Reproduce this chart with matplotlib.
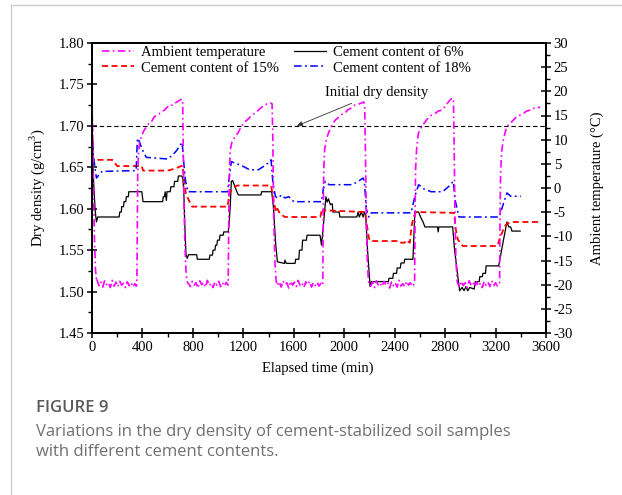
import matplotlib.pyplot as plt
from matplotlib.ticker import MultipleLocator
from matplotlib.lines import Line2D

plt.rcParams['font.family'] = ['Liberation Serif', 'DejaVu Serif']
plt.rcParams['mathtext.fontset'] = 'custom'
plt.rcParams['mathtext.rm'] = 'Liberation Serif'
plt.rcParams['axes.unicode_minus'] = False

# ambient temperature (°C) vs elapsed time (min)
temp_time = [0, 4, 8, 13, 20, 28, 36,
             40, 55, 70, 85, 100, 115, 130, 145, 160, 175, 190, 205, 220, 235, 250, 265, 280, 295, 310, 325, 340, 352,
             356, 359, 362, 368, 378, 392, 410, 430, 450, 470, 490, 513, 535, 555, 575, 595, 618, 640, 660, 680, 698, 712, 719,
             723, 729, 737, 747, 758,
             765, 780, 795, 810, 825, 840, 855, 870, 885, 900, 915, 930, 945, 960, 975, 990, 1005, 1020, 1035, 1050, 1065, 1078,
             1080, 1085, 1090, 1097, 1110, 1130, 1160, 1185, 1213, 1240, 1265, 1293, 1315, 1340, 1372, 1395, 1415, 1428,
             1434, 1440, 1450, 1460,
             1470, 1485, 1500, 1515, 1530, 1545, 1560, 1575, 1590, 1605, 1620, 1635, 1650, 1665, 1680, 1695, 1710, 1725, 1740,
             1755, 1770, 1785, 1800, 1815, 1828,
             1830, 1834, 1838, 1845, 1858, 1874, 1895, 1927, 1955, 1980, 2006, 2030, 2060, 2086, 2110, 2138, 2155, 2162,
             2168, 2175, 2183, 2192,
             2195, 2210, 2225, 2240, 2255, 2270, 2285, 2300, 2315, 2330, 2345, 2360, 2375, 2390, 2405, 2420, 2435, 2450, 2465,
             2480, 2495, 2510, 2525, 2540, 2555,
             2558, 2562, 2566, 2574, 2588, 2614, 2640, 2665, 2694, 2720, 2745, 2773, 2800, 2820, 2839, 2855, 2866,
             2872, 2878, 2886, 2896,
             2900, 2915, 2930, 2945, 2960, 2975, 2990, 3005, 3020, 3035, 3050, 3065, 3080, 3095, 3110, 3125, 3140, 3155, 3170,
             3185, 3200, 3215, 3228,
             3232, 3236, 3240, 3248, 3262, 3288, 3310, 3328, 3350, 3370, 3394, 3420, 3445, 3473, 3500, 3525, 3553]
temp_value = [16.5, 14, 8, -2, -11, -17, -19.3,
              -19.0, -20.2, -19.4, -20.5, -19.2, -20.0, -19.6, -20.6, -19.1, -20.3, -19.5, -20.4, -19.3, -20.1, -19.7, -20.6,
              -19.4, -20.2, -19.6, -20.5, -19.8, -20.3,
              -19.8, -8, 2, 7, 9.6, 10.6, 11.8, 12.6, 13.3, 13.6, 14.6, 15.1, 15.4, 15.9, 16.1, 16.7, 17.2, 17.1, 17.6, 17.9,
              18.2, 18.4, 17.9,
              10, -3, -12, -18, -19.6,
              -19.8, -20.4, -19.3, -20.1, -19.6, -20.7, -19.2, -20.0, -19.5, -20.5, -19.1, -20.2, -19.7, -20.6, -19.4, -20.1,
              -19.3, -20.4, -19.6, -20.3, -19.5, -20.1,
              -19.9, -5, 4, 8, 9.5, 10.4, 11.5, 12.8, 13.7, 14.3, 15.0, 15.5, 16.0, 16.6, 17.2, 17.5, 17.6, 17.4,
              10, -5, -15, -19.2,
              -20.2, -19.4, -20.5, -19.2, -20.0, -19.6, -20.7, -19.3, -20.1, -19.5, -20.4, -19.1, -20.2, -19.7, -20.6, -19.4,
              -20.0, -19.3, -20.5, -19.6, -20.2, -19.5, -20.3, -19.7, -20.1,
              -19.8, -5, 4, 8, 10, 11.3, 12.6, 14.0, 14.6, 15.2, 15.5, 16.2, 16.6, 17.2, 17.3, 17.6, 17.8, 17.2,
              8, -6, -15, -19.3,
              -19.6, -20.3, -19.4, -20.6, -19.2, -20.1, -19.7, -20.4, -19.3, -20.0, -19.5, -20.7, -19.4, -20.2, -19.6, -20.5,
              -19.1, -20.3, -19.8, -20.4, -19.3, -20.1, -19.6, -20.4, -19.9,
              -19.7, -5, 4, 8, 11.3, 12.7, 13.6, 14.5, 15.1, 15.4, 15.9, 16.1, 16.9, 17.6, 18.2, 18.6, 18.3,
              8, -6, -15, -19.4,
              -19.7, -20.5, -19.3, -20.2, -19.6, -20.6, -19.2, -20.0, -19.5, -20.4, -19.4, -20.3, -19.7, -20.6, -19.3, -20.1,
              -19.5, -20.4, -19.2, -20.2, -19.6, -20.3, -19.8,
              -19.6, -5, 3, 7.5, 10, 12.7, 13.2, 13.7, 14.3, 14.8, 15.1, 15.4, 15.9, 16.1, 16.5, 16.4, 16.8]

# dry density (g/cm3), cement content 6 %
c6_time = [0, 10, 25, 35, 45, 215, 220, 232, 236, 250, 254, 268, 272, 288, 292, 395, 405, 560, 565, 575, 580, 590,
           595, 620, 625, 650, 655, 680, 685, 712, 720, 728, 736, 745, 755, 765, 775, 830, 835, 930, 935, 955, 960,
           975, 980, 990, 995, 1010, 1015, 1040, 1045, 1080, 1085, 1095, 1105, 1115, 1130, 1145, 1160, 1340, 1345,
           1425, 1440, 1455, 1470, 1525, 1530, 1540, 1610, 1615, 1640, 1645, 1665, 1670, 1700, 1705, 1808, 1820,
           1835, 1855, 1865, 1875, 1890, 1905, 1910, 1960, 1965, 2100, 2110, 2120, 2135, 2150, 2160, 2170, 2185,
           2205, 2215, 2350, 2355, 2385, 2390, 2415, 2420, 2445, 2450, 2475, 2480, 2545, 2560, 2590, 2605, 2625,
           2640, 2740, 2745, 2750, 2860, 2875, 2915, 2935, 2950, 2965, 2980, 2995, 3030, 3040, 3070, 3075, 3095,
           3100, 3120, 3125, 3225, 3260, 3290, 3305, 3320, 3330, 3395]
c6_value = [1.700, 1.640, 1.598, 1.584, 1.590, 1.590, 1.596, 1.596, 1.6025, 1.6025, 1.6085, 1.6085, 1.6145, 1.6145,
            1.6205, 1.6205, 1.6085, 1.6085, 1.6145, 1.6145, 1.6205, 1.610, 1.6205, 1.6205, 1.6265, 1.6265, 1.633,
            1.633, 1.6395, 1.6395, 1.637, 1.620, 1.580, 1.545, 1.540, 1.5445, 1.5445, 1.5445, 1.539, 1.539, 1.544,
            1.544, 1.550, 1.550, 1.556, 1.556, 1.562, 1.562, 1.568, 1.568, 1.572, 1.572, 1.578, 1.600, 1.633, 1.634,
            1.628, 1.622, 1.6166, 1.6166, 1.6205, 1.6205, 1.600, 1.560, 1.536, 1.534, 1.538, 1.534, 1.534, 1.539,
            1.539, 1.550, 1.550, 1.562, 1.562, 1.568, 1.568, 1.556, 1.580, 1.6145, 1.608, 1.612, 1.605, 1.606,
            1.596, 1.596, 1.590, 1.590, 1.596, 1.590, 1.596, 1.590, 1.596, 1.592, 1.550, 1.506, 1.512, 1.512, 1.516,
            1.516, 1.522, 1.522, 1.5285, 1.5285, 1.5345, 1.5345, 1.539, 1.539, 1.596, 1.596, 1.590, 1.584, 1.578,
            1.578, 1.572, 1.578, 1.578, 1.550, 1.501, 1.505, 1.501, 1.506, 1.501, 1.505, 1.503, 1.512, 1.512, 1.518,
            1.518, 1.522, 1.522, 1.531, 1.531, 1.560, 1.584, 1.578, 1.578, 1.573, 1.573]

# dry density, cement content 15 %
c15_time = [0, 10, 160, 200, 395, 405, 600, 650, 700, 718, 735, 745, 760, 780, 795, 1075, 1090, 1120, 1150, 1420,
            1440, 1460, 1470, 1490, 1530, 1810, 1825, 1835, 1850, 2165, 2180, 2195, 2205, 2440, 2450, 2480, 2490,
            2520, 2535, 2550, 2570, 2870, 2885, 2900, 2915, 2940, 3215, 3235, 3270, 3290, 3330, 3540]
c15_value = [1.700, 1.659, 1.659, 1.6515, 1.6515, 1.646, 1.646, 1.648, 1.651, 1.652, 1.630, 1.617, 1.613, 1.606,
             1.6025, 1.6025, 1.6186, 1.6246, 1.628, 1.628, 1.610, 1.596, 1.600, 1.594, 1.590, 1.590, 1.600, 1.596,
             1.598, 1.596, 1.580, 1.565, 1.561, 1.561, 1.559, 1.559, 1.562, 1.559, 1.580, 1.590, 1.596, 1.595, 1.575,
             1.563, 1.560, 1.555, 1.555, 1.565, 1.578, 1.582, 1.584, 1.584]

# dry density, cement content 18 %
c18_time = [0, 10, 35, 50, 80, 350, 360, 370, 400, 430, 600, 640, 670, 700, 715, 725, 740, 760, 1075, 1090, 1105,
            1130, 1170, 1200, 1250, 1320, 1360, 1395, 1420, 1435, 1455, 1480, 1500, 1530, 1560, 1600, 1820, 1835,
            1850, 1880, 2060, 2100, 2150, 2160, 2175, 2195, 2215, 2530, 2560, 2590, 2630, 2690, 2780, 2830, 2865,
            2880, 2910, 3230, 3260, 3290, 3320, 3400]
c18_value = [1.700, 1.665, 1.637, 1.640, 1.645, 1.646, 1.685, 1.683, 1.671, 1.662, 1.660, 1.665, 1.670, 1.677, 1.680,
             1.660, 1.635, 1.6205, 1.6205, 1.640, 1.657, 1.655, 1.653, 1.651, 1.647, 1.647, 1.651, 1.655, 1.659, 1.630,
             1.6145, 1.613, 1.6166, 1.613, 1.6145, 1.6085, 1.6085, 1.625, 1.633, 1.629, 1.629, 1.632, 1.637, 1.633,
             1.600, 1.590, 1.595, 1.595, 1.615, 1.629, 1.624, 1.6205, 1.6205, 1.627, 1.633, 1.610, 1.590, 1.590, 1.605,
             1.619, 1.615, 1.615]

initial_density = 1.70

fig = plt.figure(figsize=(6.22, 4.95), dpi=100)
ax = fig.add_axes([92 / 622, 1 - 333 / 495, 454 / 622, 290 / 495])
ax2 = ax.twinx()

ax.axhline(initial_density, color='black', lw=0.8, dashes=(4, 2.5), zorder=1)
l6, = ax.plot(c6_time, c6_value, color='black', lw=0.9, label='Cement content of 6%', zorder=3)
l15, = ax.plot(c15_time, c15_value, color='#ff0000', lw=1.3, dashes=(3.3, 2.0), label='Cement content of 15%', zorder=3)
l18, = ax.plot(c18_time, c18_value, color='#0000ff', lw=1.1, dashes=(5, 2.2, 1.2, 2.2), label='Cement content of 18%', zorder=3)
lt, = ax2.plot(temp_time, temp_value, color='#ff00ff', lw=1.2, dashes=(4.5, 2.0, 1.0, 2.0), label='Ambient temperature')

ax.annotate('Initial dry density', xy=(1626, 1.700), xytext=(1848, 1.7397),
            fontsize=10.5, ha='left', va='center',
            arrowprops=dict(arrowstyle='-|>', color='#333333', lw=0.6, mutation_scale=8,
                            shrinkA=2, shrinkB=0))

ax.set_xlim(0, 3600)
ax.set_ylim(1.45, 1.80)
ax2.set_ylim(-30, 30)
ax.xaxis.set_major_locator(MultipleLocator(400))
ax.xaxis.set_minor_locator(MultipleLocator(200))
ax.yaxis.set_major_locator(MultipleLocator(0.05))
ax.yaxis.set_minor_locator(MultipleLocator(0.025))
ax2.yaxis.set_major_locator(MultipleLocator(5))
ax2.yaxis.set_minor_locator(MultipleLocator(2.5))
ax.yaxis.set_major_formatter(plt.FormatStrFormatter('%.2f'))

for a in (ax, ax2):
    for s in a.spines.values():
        s.set_linewidth(1.3)
    a.tick_params(which='major', direction='inout', length=7, width=1.1, labelsize=10.5, pad=2)
    a.tick_params(which='minor', direction='out', length=3, width=1.0)
ax.tick_params(axis='both', which='both', top=False, right=False)

ax.set_xlabel('Elapsed time (min)', fontsize=10.5)
ax.set_ylabel('Dry density (g/cm$^{3}$)', fontsize=10.5)
ax2.set_ylabel('Ambient temperature (°C)', fontsize=10.5)
ax.xaxis.set_label_coords(0.498, -0.098)
ax.yaxis.set_label_coords(-0.099, 0.5)
ax2.yaxis.set_label_coords(1.099, 0.5)

ax2.legend(handles=[lt, l15, l6, l18], ncol=2, frameon=False, fontsize=10.5,
           loc='upper left', bbox_to_anchor=(0.022, 0.99), borderaxespad=0, borderpad=0,
           handlelength=2.2, handletextpad=0.5, columnspacing=1.0, labelspacing=0.15)

# caption and page frame
fig.add_artist(Line2D([11 / 622, 11 / 622, 1], [0, 1 - 5 / 495, 1 - 5 / 495],
                      transform=fig.transFigure, color='#cccccc', lw=1.0))
fig.text(36 / 622, 1 - 408 / 495, 'FIGURE 9', family='Open Sans', fontweight='semibold',
         fontsize=12, color='#5a5a5a', va='center', ha='left')
fig.text(36 / 622, 1 - 442 / 495,
         'Variations in the dry density of cement-stabilized soil samples\nwith different cement contents.',
         family='Open Sans', fontsize=12, color='#707070', va='center', ha='left', linespacing=1.4)

fig.savefig('out.png', dpi=100)
